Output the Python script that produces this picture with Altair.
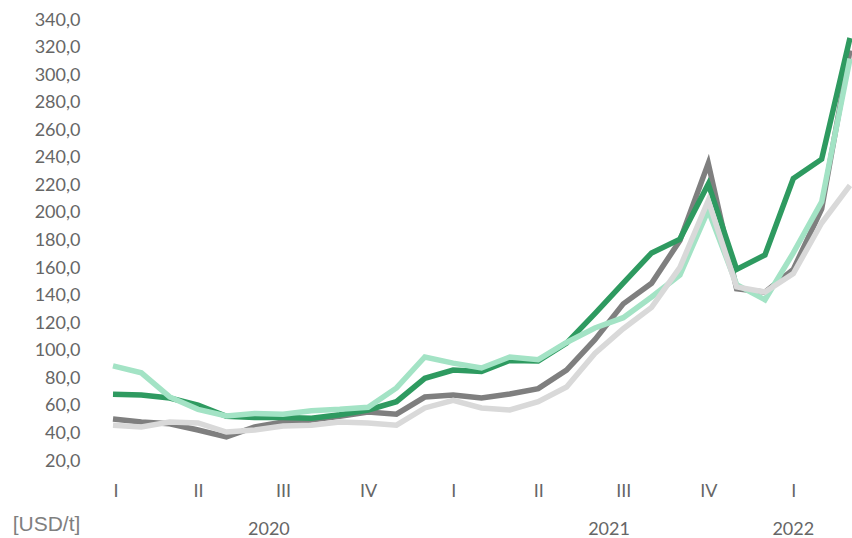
import altair as alt
import pandas as pd

# Month index 0 = Jan 2020 ... 26 = Mar 2022
months = list(range(27))

series_dark_green = [68.5, 67.9, 65.7, 60.6, 52.5, 51.5, 51.5, 51.0, 53.5, 57.0, 63.0, 80.0, 86.0, 85.0,
                     93.0, 92.5, 105.5, 127.0, 149.0, 171.0, 181.0, 221.0, 159.0, 169.5, 225.0, 239.0, 327.0]
series_light_green = [89.0, 84.0, 66.5, 57.5, 52.7, 54.5, 54.0, 56.5, 57.5, 59.0, 73.0, 95.5, 91.0, 87.5,
                      95.5, 93.5, 106.0, 116.5, 124.0, 139.0, 155.0, 202.0, 148.0, 137.0, 171.0, 208.0, 312.0]
series_gray = [50.5, 48.3, 47.0, 42.5, 37.5, 44.7, 48.3, 49.7, 52.5, 55.6, 54.0, 66.4, 67.9, 65.7,
               68.6, 72.5, 86.0, 108.0, 134.0, 149.0, 180.0, 236.0, 145.0, 142.5, 159.0, 203.0, 318.0]
series_light_gray = [46.0, 44.7, 48.3, 47.6, 41.0, 42.5, 45.4, 46.0, 48.3, 47.6, 46.0, 58.5, 64.0, 58.5,
                     57.0, 63.0, 73.7, 98.0, 116.0, 131.5, 160.5, 209.0, 146.3, 142.6, 156.0, 192.7, 220.0]

quarter_ticks = [0, 3, 6, 9, 12, 15, 18, 21, 24]
quarter_labels = ["I", "II", "III", "IV"]
y_ticks = list(range(20, 341, 20))
years = ["2020", "2021", "2022"]
year_pos = [5.5, 17.5, 24.0]

series = [
    ("s3", series_gray, "#7f7f7f"),
    ("s1", series_dark_green, "#2e9a60"),
    ("s2", series_light_green, "#a3e3c5"),
    ("s4", series_light_gray, "#d9d9d9"),
]

label_color = "#666666"
font = "Lato"

x_scale = alt.Scale(domain=[0, 26], nice=False, zero=False)
y_scale = alt.Scale(domain=[20, 340], nice=False, zero=False)

x_axis = alt.Axis(
    values=quarter_ticks,
    labelExpr="['" + "','".join(quarter_labels) + "'][round(datum.value/3) % 4]",
    title=None, grid=False, domain=False, ticks=False,
    labelPadding=21, labelFont=font, labelFontSize=18, labelColor=label_color,
)
y_axis = alt.Axis(
    values=y_ticks,
    labelExpr="replace(format(datum.value, '.1f'), '.', ',')",
    title="[USD/t]", titleAngle=0, titleX=-67, titleY=504,
    titleAlign="center", titleBaseline="middle",
    titleFont="Liberation Sans", titleFontSize=21, titleFontWeight="normal",
    titleColor="#7f7f7f",
    grid=False, domain=False, ticks=False,
    labelPadding=33, labelFont=font, labelFontSize=18, labelColor=label_color,
)

enc_x = alt.X("m:Q", scale=x_scale, axis=x_axis)

layers = []
for name, vals, col in series:
    df = pd.DataFrame({"m": months, "v": vals})
    layers.append(
        alt.Chart(df).mark_line(color=col, strokeWidth=5.5, strokeJoin="miter", strokeCap="butt")
        .encode(x=enc_x, y=alt.Y("v:Q", scale=y_scale, axis=y_axis))
    )

year_df = pd.DataFrame({"m": year_pos, "t": years})
year_layer = alt.Chart(year_df).mark_text(
    font=font, fontSize=18, color=label_color, baseline="middle", align="center"
).encode(x=enc_x, y=alt.value(510), text="t:N")
layers.append(year_layer)

chart = alt.layer(*layers).properties(
    width=737, height=441,
    autosize=alt.AutoSizeParams(type="none"),
    padding={"left": 113, "top": 20, "right": 2, "bottom": 77},
    background="white",
).configure_view(stroke=None)

chart.save("out.html", embed_options={"renderer": "svg", "actions": False})
